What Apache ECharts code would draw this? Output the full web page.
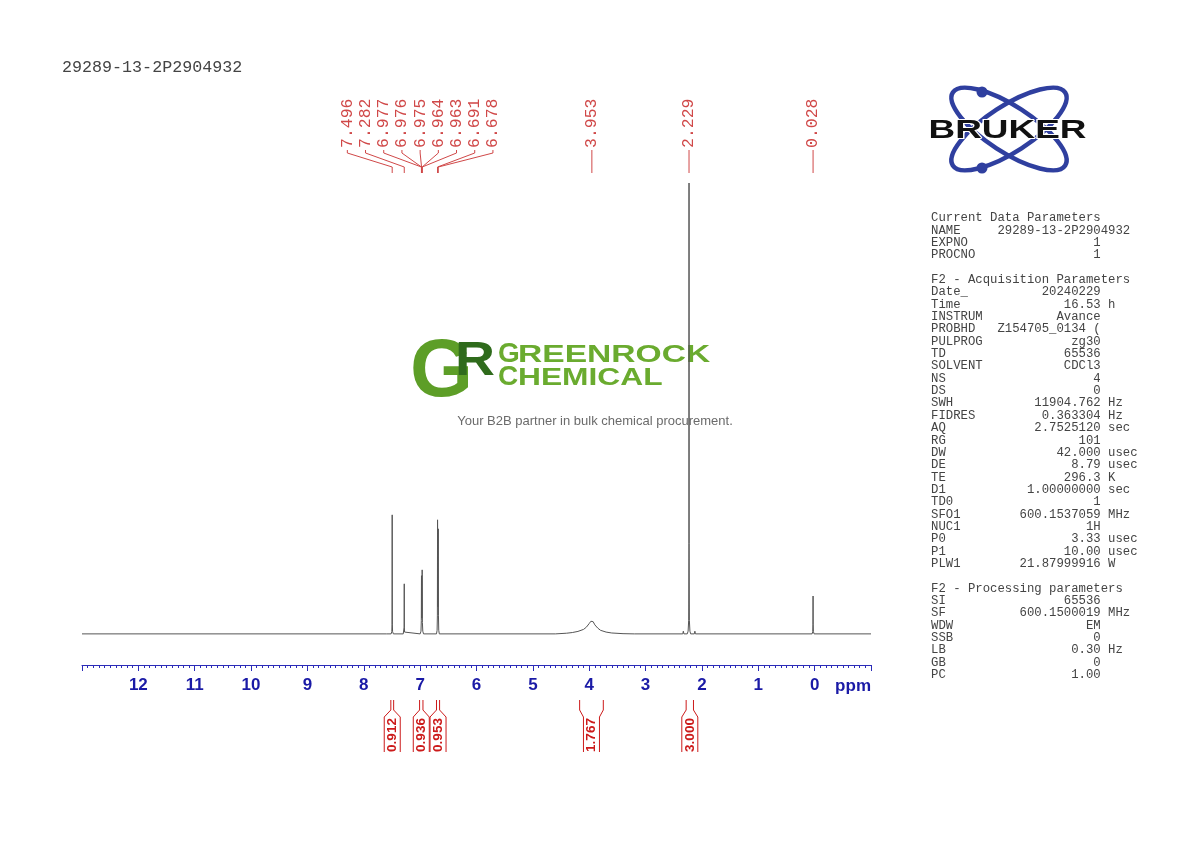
<!DOCTYPE html>
<html><head><meta charset="utf-8">
<script src="https://cdn.jsdelivr.net/npm/echarts@6/dist/echarts.min.js"></script>
<style>html,body{margin:0;padding:0;background:#fff}#c{width:1190px;height:842px}</style>
</head><body><div id="c"></div>
<script>
// ---------- data ----------
const sampleName = '29289-13-2P2904932';
const axisMin = -1, axisMax = 13;
const intensityMin = -6.9, intensityMax = 100;

// spectrum trace points [ppm, relative intensity]
const spectrum = [
  [13.0,0],[7.60,0],
  [7.515,0],[7.503,0.5],[7.499,2.0],[7.496,26.4],[7.493,2.0],[7.489,0.5],[7.475,0],
  [7.30,0],[7.288,0.4],[7.284,1.5],[7.282,11.1],[7.280,1.5],[7.276,0.4],[7.26,0],
  [7.00,0],[6.985,0.6],[6.979,3],[6.977,11.5],[6.976,12.9],[6.975,11.8],[6.970,3.5],[6.966,5],[6.964,14.2],[6.963,13.2],[6.960,2.5],[6.953,0.6],[6.94,0],
  [6.71,0],[6.699,0.8],[6.694,4],[6.691,25.3],[6.685,6],[6.678,23.3],[6.675,4],[6.670,0.8],[6.66,0],
  [4.60,0],[4.40,0.15],[4.30,0.3],[4.20,0.55],[4.10,1.0],[4.05,1.5],[4.00,2.3],[3.97,2.8],[3.953,2.95],[3.93,2.7],[3.90,2.0],[3.85,1.3],[3.80,0.8],[3.70,0.4],[3.60,0.2],[3.40,0.05],[3.20,0],
  [2.34,0],[2.33,0.6],[2.32,0],
  [2.26,0],[2.245,0.6],[2.235,3],[2.231,20],[2.229,100],[2.227,20],[2.223,3],[2.213,0.6],[2.20,0],
  [2.135,0],[2.125,0.6],[2.115,0],
  [0.045,0],[0.034,0.5],[0.030,2],[0.028,8.4],[0.026,2],[0.022,0.5],[0.01,0],
  [-1.0,0]
];

// peak picking labels
const peakLabels = ['7.496','7.282','6.977','6.976','6.975','6.964','6.963','6.691','6.678','3.953','2.229','0.028'];
const peakPpm = [7.496,7.282,6.977,6.976,6.975,6.964,6.963,6.691,6.678,3.953,2.229,0.028];

// integrals
const integralFrom = [7.52, 7.01, 6.71, 4.17, 2.28];
const integralTo   = [7.47, 6.95, 6.655, 3.75, 2.15];
const integralValues = ['0.912','0.936','0.953','1.767','3.000'];

// parameter table
const paramSections = [
  {title:'Current Data Parameters', keys:['NAME','EXPNO','PROCNO'], values:['29289-13-2P2904932','1','1'], units:['','','']},
  {title:'F2 - Acquisition Parameters',
   keys:['Date_','Time','INSTRUM','PROBHD','PULPROG','TD','SOLVENT','NS','DS','SWH','FIDRES','AQ','RG','DW','DE','TE','D1','TD0','SFO1','NUC1','P0','P1','PLW1'],
   values:['20240229','16.53','Avance','Z154705_0134 (','zg30','65536','CDCl3','4','0','11904.762','0.363304','2.7525120','101','42.000','8.79','296.3','1.00000000','1','600.1537059','1H','3.33','10.00','21.87999916'],
   units:['','h','','','','','','','','Hz','Hz','sec','','usec','usec','K','sec','','MHz','','usec','usec','W']},
  {title:'F2 - Processing parameters',
   keys:['SI','SF','WDW','SSB','LB','GB','PC'],
   values:['65536','600.1500019','EM','0','0.30','0','1.00'],
   units:['','MHz','','','Hz','','']}
];

// ---------- helpers ----------
const RED = '#d04848';
const INT_RED = '#cc1a1a';
const BLUE_AXIS = '#2b2bb8';
const BLUE_LABEL = '#1a1aa6';

function paramText(){
  const lines = [];
  paramSections.forEach((s, si) => {
    if (si > 0) lines.push('');
    lines.push(s.title);
    s.keys.forEach((k, i) => {
      const v = s.values[i];
      let line;
      if (v.length > 14) line = k.padEnd(9) + v;
      else line = k + ' '.repeat(Math.max(1, 23 - k.length - v.length)) + v;
      if (s.units[i]) line += ' ' + s.units[i];
      lines.push(line);
    });
  });
  return lines.join('\n');
}

function spreadPositions(xs, gap){
  let groups = xs.map((x, i) => ({idx:[i], sum:x}));
  let merged = true;
  while (merged){
    merged = false;
    for (let g = 0; g < groups.length - 1; g++){
      const A = groups[g], B = groups[g+1];
      const aRight = A.sum / A.idx.length + (A.idx.length - 1) / 2 * gap;
      const bLeft = B.sum / B.idx.length - (B.idx.length - 1) / 2 * gap;
      if (bLeft - aRight < gap){
        A.idx = A.idx.concat(B.idx); A.sum += B.sum;
        groups.splice(g+1, 1); merged = true; break;
      }
    }
  }
  const out = new Array(xs.length);
  groups.forEach(G => {
    const c = G.sum / G.idx.length, n = G.idx.length;
    G.idx.forEach((id, k) => { out[id] = c + (k - (n - 1) / 2) * gap; });
  });
  return out;
}

function renderPeakLabel(params, api){
  const i = params.dataIndex;
  const xs = peakPpm.map(p => api.coord([p, 0])[0]);
  const lx = spreadPositions(xs, 18.2)[i];
  const px = xs[i];
  return {type:'group', children:[
    {type:'text', x: lx, y: 148, rotation: Math.PI/2,
     style:{text: peakLabels[i], fill: RED, fontFamily:'Liberation Mono', fontSize:16.5, align:'left', verticalAlign:'middle'}},
    {type:'polyline', shape:{points:[[lx,150],[lx,153],[px,167],[px,173]]},
     style:{stroke: RED, lineWidth:1, fill:null}}
  ]};
}

function renderIntegral(params, api){
  const i = params.dataIndex;
  const xa = api.coord([integralFrom[i], 0])[0];
  const xb = api.coord([integralTo[i], 0])[0];
  const x1 = Math.min(xa, xb), x2 = Math.max(xa, xb), cx = (x1 + x2) / 2, hw = 8;
  return {type:'group', children:[
    {type:'polyline', shape:{points:[[x1,700],[x1,710],[cx-hw,717],[cx-hw,752]]}, style:{stroke: INT_RED, lineWidth:1, fill:null}},
    {type:'polyline', shape:{points:[[x2,700],[x2,710],[cx+hw,717],[cx+hw,752]]}, style:{stroke: INT_RED, lineWidth:1, fill:null}},
    {type:'text', x: cx, y: 735, rotation: Math.PI/2,
     style:{text: integralValues[i], fill: INT_RED, fontFamily:'Liberation Sans', fontWeight:'bold', fontSize:13.5, align:'center', verticalAlign:'middle'}}
  ]};
}

// ---------- chart ----------
const chart = echarts.init(document.getElementById('c'), null, {renderer:'canvas'});
chart.setOption({
  animation: false,
  backgroundColor: '#ffffff',
  grid: {left: 82, right: 319, top: 183, bottom: 177, outerBoundsMode: 'none', containLabel: false},
  xAxis: {
    type: 'value', inverse: true, min: axisMin, max: axisMax, interval: 1,
    axisLine: {show: true, onZero: false, lineStyle: {color: BLUE_AXIS, width: 1}},
    axisTick: {show: true, length: 6, lineStyle: {color: BLUE_AXIS, width: 1}},
    minorTick: {show: true, splitNumber: 10, length: 3, lineStyle: {color: BLUE_AXIS, width: 1}},
    splitLine: {show: false}, minorSplitLine: {show: false},
    axisLabel: {
      show: true, margin: 12, color: BLUE_LABEL, fontFamily: 'Liberation Sans', fontWeight: 'bold', fontSize: 17,
      showMinLabel: true, showMaxLabel: true,
      formatter: v => (v === axisMax || v === axisMin) ? '' : String(v)
    }
  },
  yAxis: {type: 'value', show: false, min: intensityMin, max: intensityMax},
  series: [
    {type: 'line', data: spectrum, symbol: 'none', showSymbol: false, sampling: null,
     lineStyle: {color: '#555555', width: 1}, silent: true, z: 3},
    {type: 'custom', data: peakPpm.map(p => [p, 0]), encode: {x: 0, y: 1},
     renderItem: renderPeakLabel, clip: false, silent: true, z: 4},
    {type: 'custom', data: integralFrom.map((f, i) => [f, integralTo[i], 0]), encode: {x: [0, 1], y: 2},
     renderItem: renderIntegral, clip: false, silent: true, z: 4}
  ],
  graphic: {elements: [
    {type:'text', x: 62, y: 68, style:{text: sampleName, fill:'#444', fontFamily:'Liberation Mono', fontSize:16.7, align:'left', verticalAlign:'middle'}},
    {type:'text', x: 871, y: 686, style:{text:'ppm', fill: BLUE_LABEL, fontFamily:'Liberation Sans', fontWeight:'bold', fontSize:17, align:'right', verticalAlign:'middle'}},
    // parameter block
    {type:'text', x: 931, y: 211.8, style:{text: paramText(), fill:'#444', fontFamily:'Liberation Mono', fontSize:12.3, lineHeight:12.35, align:'left', verticalAlign:'top'}},
    // Bruker logo
    {type:'ellipse', x: 1009, y: 129, rotation: -0.576, shape:{cx:0, cy:0, rx:67, ry:23}, style:{stroke:'#2f3f9f', lineWidth:4.5, fill:null}},
    {type:'ellipse', x: 1009, y: 129, rotation: 0.576, shape:{cx:0, cy:0, rx:67, ry:23}, style:{stroke:'#2f3f9f', lineWidth:4.5, fill:null}},
    {type:'circle', shape:{cx: 982, cy: 92, r: 5.5}, style:{fill:'#2f3f9f'}},
    {type:'circle', shape:{cx: 982, cy: 168, r: 5.5}, style:{fill:'#2f3f9f'}},
    {type:'text', x: 1007.5, y: 131, scaleX: 1.42, style:{text:'BRUKER', fill:'#111', stroke:'#fff', lineWidth:2, fontFamily:'Liberation Sans', fontWeight:'bold', fontSize:26, align:'center', verticalAlign:'middle'}},
    // Greenrock watermark
    {type:'text', x: 410, y: 374, style:{text:'G', fill:'#5d9e27', fontFamily:'Liberation Sans', fontWeight:'bold', fontSize:81, align:'left', verticalAlign:'middle'}},
    {type:'text', x: 455, y: 361, scaleX: 1.13, style:{text:'R', fill:'#2f6b1c', fontFamily:'Liberation Sans', fontWeight:'bold', fontSize:49, align:'left', verticalAlign:'middle'}},
    {type:'text', x: 498, y: 354, style:{text:'G', fill:'#6aab2f', fontFamily:'Liberation Sans', fontWeight:'bold', fontSize:28, align:'left', verticalAlign:'middle'}},
    {type:'text', x: 518, y: 355.5, scaleX: 1.46, style:{text:'REENROCK', fill:'#6aab2f', fontFamily:'Liberation Sans', fontWeight:'bold', fontSize:23, align:'left', verticalAlign:'middle'}},
    {type:'text', x: 498, y: 377, style:{text:'C', fill:'#6aab2f', fontFamily:'Liberation Sans', fontWeight:'bold', fontSize:28, align:'left', verticalAlign:'middle'}},
    {type:'text', x: 518, y: 378.5, scaleX: 1.38, style:{text:'HEMICAL', fill:'#6aab2f', fontFamily:'Liberation Sans', fontWeight:'bold', fontSize:23, align:'left', verticalAlign:'middle'}},
    {type:'text', x: 595, y: 421, style:{text:'Your B2B partner in bulk chemical procurement.', fill:'#6b6b6b', fontFamily:'Liberation Sans', fontSize:13, align:'center', verticalAlign:'middle'}}
  ]}
});
</script></body></html>
